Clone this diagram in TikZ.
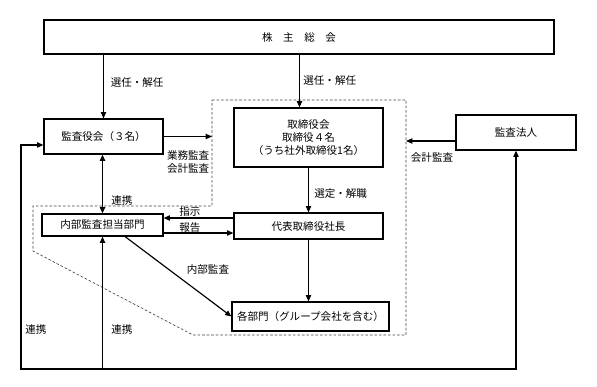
\documentclass[tikz,border=0pt]{standalone}
\usepackage{fontspec}
\setmainfont{Noto Sans CJK JP}
\usetikzlibrary{positioning,arrows.meta,calc}

\begin{document}
\begin{tikzpicture}[
  box/.style={rectangle, draw=black, line width=1.1pt, inner sep=2pt,
              minimum width=#1, align=center},
  lbl/.style={inner sep=1pt, font=\normalsize},
  ar/.style={-{Triangle[length=6pt,width=5pt]}, line width=1.1pt},
  arr/.style={{Triangle[length=6pt,width=5pt]}-{Triangle[length=6pt,width=5pt]}, line width=1.1pt},
  grp/.style={draw=black!75, dashed, dash pattern=on 2.5pt off 1.8pt, line width=0.6pt},
]
\useasboundingbox (0,0) rectangle (19.9,12.867);

\node[box=17cm, minimum height=1.133cm]   (soukai) at (9.967,11.633) {株　主　総　会};
\node[box=3.967cm, minimum height=1.167cm] (kansa)  at (3.45, 8.317)  {監査役会（３名）};
\node[box=4.967cm, minimum height=1.967cm] (tori)   at (10.283,8.283) {取締役会\\取締役４名\\（うち社外取締役1名）};
\node[box=4.967cm, minimum height=0.867cm] (daihyo) at (10.283,5.333) {代表取締役社長};
\node[box=5.233cm, minimum height=0.967cm] (kakubu) at (10.35, 2.317) {各部門（グループ会社を含む）};
\node[box=4.033cm, minimum height=0.733cm] (naibu)  at (3.417, 5.367) {内部監査担当部門};
\node[box=4.0cm,   minimum height=1.167cm] (hojin)  at (17.2,  8.45)  {監査法人};

% executive group outline
\coordinate (gtl) at (7.067,9.533);
\coordinate (gtr) at (13.533,9.533);
\draw[grp] (gtl) -- (gtr) -- (13.533,1.7) -- (6.433,1.7) -- (1.1,4.5)
           -- (1.1,6.0) -- (7.067,6.0) -- cycle;

% shareholders
\draw[ar] (soukai.south -| kansa.north) -- (kansa.north);
\node[lbl, anchor=west] (l1) at (3.65,10.133) {選任・解任};
\draw[ar] ([xshift=-0.3cm]soukai.south -| tori.north) -- ([xshift=-0.3cm]tori.north);
\node[lbl, anchor=west] (l2) at (10.07,10.2) {選任・解任};

% audit board
\draw[ar] (kansa.east) -- (kansa.east -| gtl);
\node[lbl, align=center] (l3) at (6.27,7.467) {業務監査\\会計監査};

% audit firm
\draw[ar] ([yshift=-0.283cm]hojin.west) -- ([yshift=-0.283cm]hojin.west -| gtr);
\node[lbl] (l4) at (14.4,7.633) {会計監査};

% management line
\draw[ar] (tori.south) -- (daihyo.north);
\node[lbl, anchor=west] (l5) at (10.433,6.433) {選定・解職};
\draw[ar] (daihyo.south) -- (daihyo.south |- kakubu.north);

% internal audit
\draw[arr] (kansa.south -| naibu.north) -- (naibu.north);
\node[lbl, anchor=west] (l6) at (3.667,6.2) {連携};
\draw[ar] ([yshift=0.267cm]daihyo.west) -- ([yshift=0.267cm]daihyo.west -| naibu.east);
\node[lbl] (l7) at (6.333,5.833) {指示};
\draw[ar] ([yshift=-0.267cm]naibu.east) -- ([yshift=-0.267cm]naibu.east -| daihyo.west);
\node[lbl] (l8) at (6.333,5.267) {報告};
\draw[ar] ([xshift=0.75cm]naibu.south) -- (kakubu.west);
\node[lbl] (l9) at (6.933,3.867) {内部監査};

% cooperation loop
\coordinate (loopL) at (0.7,0.567);
\draw[arr] (hojin.south) |- (loopL) |- ([yshift=-0.283cm]kansa.west);
\draw[ar] (naibu.south |- loopL) -- (naibu.south);
\node[lbl, anchor=west] (l10) at (0.8,1.9) {連携};
\node[lbl, anchor=west] (l11) at (3.667,1.9) {連携};

\end{tikzpicture}
\end{document}
